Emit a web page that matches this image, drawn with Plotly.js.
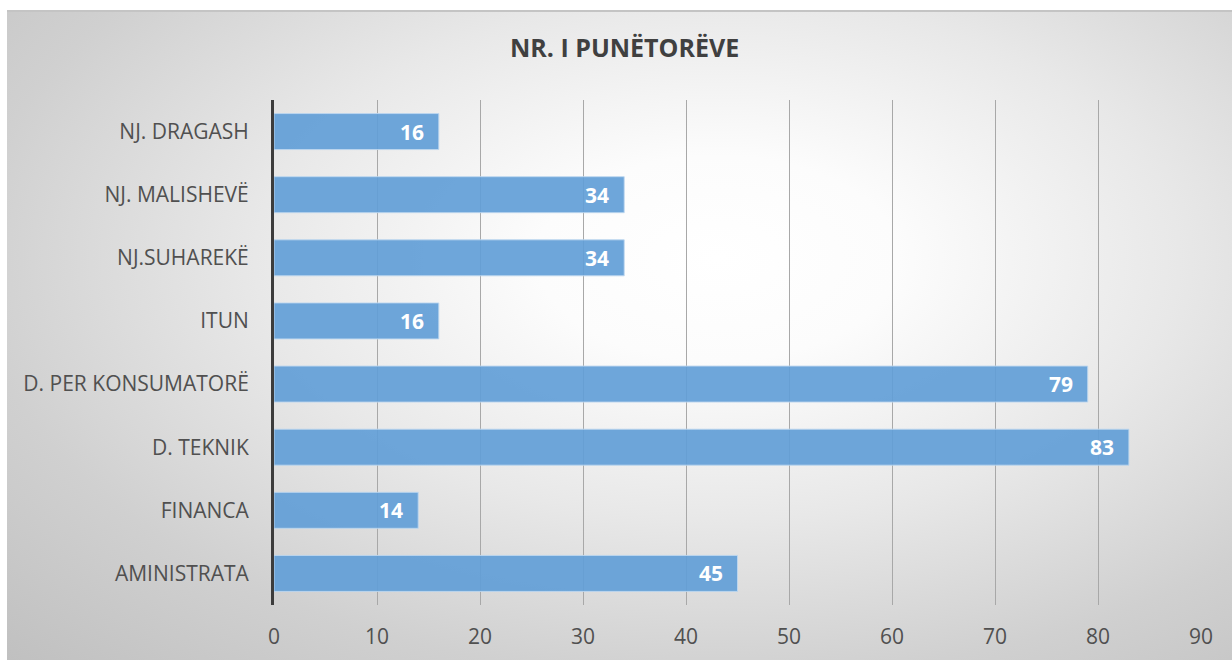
<!DOCTYPE html>
<html>
<head>
<meta charset="utf-8">
<script src="https://cdn.plot.ly/plotly-3.0.1.min.js"></script>
<style>
  html, body { margin: 0; padding: 0; background: #ffffff; }
  #wrap { position: relative; width: 1232px; height: 660px; overflow: hidden; background: #ffffff; }
  #frame {
    position: absolute; left: 7px; top: 10px; width: 1225px; height: 650px;
    border-top: 2px solid #c4c4c4;
    box-sizing: border-box;
    background: radial-gradient(ellipse farthest-corner at 58% 38%, #ffffff 0%, #fcfcfc 18%, #e8e8e8 46%, #d0d0d0 74%, #c0c0c0 100%);
  }
  #chart { position: absolute; left: 0; top: 0; width: 1232px; height: 660px; }
</style>
</head>
<body>
<div id="wrap">
  <div id="frame"></div>
  <div id="chart"></div>
</div>
<script>
// Data (top to bottom as shown)
const categories = ["NJ. DRAGASH", "NJ. MALISHEVË", "NJ.SUHAREKË", "ITUN", "D. PER KONSUMATORË", "D. TEKNIK", "FINANCA", "AMINISTRATA"];
const workers = [16, 34, 34, 16, 79, 83, 14, 45];
const xTicks = [0, 10, 20, 30, 40, 50, 60, 70, 80, 90];
const chartTitle = "NR. I PUNËTORËVE";

const FONT = "Open Sans, Noto Sans, DejaVu Sans, sans-serif";

const trace = {
  type: "bar",
  orientation: "h",
  y: categories,
  x: workers,
  width: 0.57,
  marker: {
    color: "rgba(98,158,215,0.92)",
    line: { color: "rgba(190,215,240,0.9)", width: 1 }
  },
  hoverinfo: "x+y"
};

const annotations = categories.map((c, i) => ({
  x: workers[i],
  y: c,
  xref: "x",
  yref: "y",
  text: "<b>" + workers[i] + "</b>",
  showarrow: false,
  xanchor: "right",
  yanchor: "middle",
  xshift: -13,
  yshift: 0,
  font: { family: FONT, size: 21, color: "#ffffff" }
}));

const layout = {
  width: 1232,
  height: 660,
  paper_bgcolor: "rgba(0,0,0,0)",
  plot_bgcolor: "rgba(0,0,0,0)",
  margin: { l: 274, r: 31, t: 100, b: 55 },
  showlegend: false,
  title: {
    text: "<b>" + chartTitle + "</b>",
    x: 0.507,
    xanchor: "center",
    y: 1 - 48 / 660,
    yanchor: "middle",
    font: { family: FONT, size: 25, color: "#404040" }
  },
  xaxis: {
    range: [0, 90],
    tickvals: xTicks,
    ticktext: xTicks.map(String),
    showgrid: true,
    gridcolor: "#a8a8a8",
    gridwidth: 1,
    zeroline: false,
    showline: false,
    ticks: "",
    ticklabelstandoff: 17,
    tickfont: { family: FONT, size: 21, color: "#505050" },
    fixedrange: true
  },
  yaxis: {
    type: "category",
    autorange: "reversed",
    showgrid: false,
    zeroline: false,
    showline: true,
    linecolor: "#3c3c3c",
    linewidth: 3,
    ticks: "",
    ticklabelstandoff: 18,
    tickfont: { family: FONT, size: 21, color: "#505050" },
    fixedrange: true
  },
  annotations: annotations,
  bargap: 0.43
};

Plotly.newPlot("chart", [trace], layout, { displayModeBar: false, staticPlot: true });
</script>
</body>
</html>
